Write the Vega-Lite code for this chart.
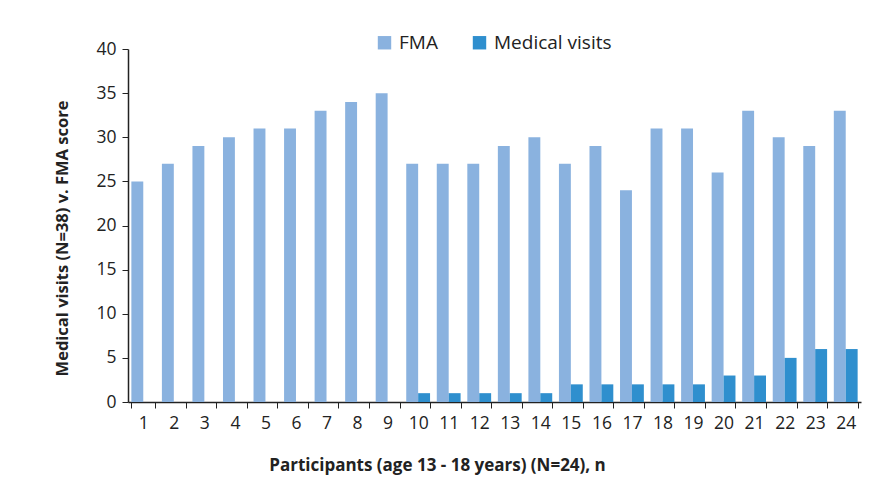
{
  "$schema": "https://vega.github.io/schema/vega-lite/v6.json",
  "autosize": "none",
  "width": 733,
  "height": 353,
  "padding": {"left": 128, "top": 49, "right": 24, "bottom": 83},
  "background": "white",
  "config": {"view": {"stroke": null}, "font": "Open Sans"},
  "data": {
    "values": [
      {"p": 1, "series": "FMA", "v": 25}, {"p": 1, "series": "Medical visits", "v": 0},
      {"p": 2, "series": "FMA", "v": 27}, {"p": 2, "series": "Medical visits", "v": 0},
      {"p": 3, "series": "FMA", "v": 29}, {"p": 3, "series": "Medical visits", "v": 0},
      {"p": 4, "series": "FMA", "v": 30}, {"p": 4, "series": "Medical visits", "v": 0},
      {"p": 5, "series": "FMA", "v": 31}, {"p": 5, "series": "Medical visits", "v": 0},
      {"p": 6, "series": "FMA", "v": 31}, {"p": 6, "series": "Medical visits", "v": 0},
      {"p": 7, "series": "FMA", "v": 33}, {"p": 7, "series": "Medical visits", "v": 0},
      {"p": 8, "series": "FMA", "v": 34}, {"p": 8, "series": "Medical visits", "v": 0},
      {"p": 9, "series": "FMA", "v": 35}, {"p": 9, "series": "Medical visits", "v": 0},
      {"p": 10, "series": "FMA", "v": 27}, {"p": 10, "series": "Medical visits", "v": 1},
      {"p": 11, "series": "FMA", "v": 27}, {"p": 11, "series": "Medical visits", "v": 1},
      {"p": 12, "series": "FMA", "v": 27}, {"p": 12, "series": "Medical visits", "v": 1},
      {"p": 13, "series": "FMA", "v": 29}, {"p": 13, "series": "Medical visits", "v": 1},
      {"p": 14, "series": "FMA", "v": 30}, {"p": 14, "series": "Medical visits", "v": 1},
      {"p": 15, "series": "FMA", "v": 27}, {"p": 15, "series": "Medical visits", "v": 2},
      {"p": 16, "series": "FMA", "v": 29}, {"p": 16, "series": "Medical visits", "v": 2},
      {"p": 17, "series": "FMA", "v": 24}, {"p": 17, "series": "Medical visits", "v": 2},
      {"p": 18, "series": "FMA", "v": 31}, {"p": 18, "series": "Medical visits", "v": 2},
      {"p": 19, "series": "FMA", "v": 31}, {"p": 19, "series": "Medical visits", "v": 2},
      {"p": 20, "series": "FMA", "v": 26}, {"p": 20, "series": "Medical visits", "v": 3},
      {"p": 21, "series": "FMA", "v": 33}, {"p": 21, "series": "Medical visits", "v": 3},
      {"p": 22, "series": "FMA", "v": 30}, {"p": 22, "series": "Medical visits", "v": 5},
      {"p": 23, "series": "FMA", "v": 29}, {"p": 23, "series": "Medical visits", "v": 6},
      {"p": 24, "series": "FMA", "v": 33}, {"p": 24, "series": "Medical visits", "v": 6}
    ]
  },
  "mark": {"type": "bar"},
  "encoding": {
    "x": {
      "field": "p",
      "type": "ordinal",
      "scale": {"paddingInner": 0.22, "paddingOuter": 0.11},
      "axis": {
        "title": "Participants (age 13 - 18 years) (N=24), n",
        "labelAngle": 0,
        "labelFontSize": 17.5,
        "labelColor": "#222",
        "labelPadding": 6,
        "tickBand": "extent",
        "tickSize": 6,
        "tickColor": "#222",
        "domainColor": "#222",
        "domainWidth": 1.5,
        "titleFontSize": 17,
        "titleFontWeight": "bold",
        "titleColor": "#222",
        "titleX": 309,
        "titleY": 68,
        "titleAlign": "center",
        "titleBaseline": "alphabetic"
      }
    },
    "xOffset": {"field": "series", "type": "nominal", "scale": {"paddingInner": 0, "paddingOuter": 0}, "sort": ["FMA", "Medical visits"]},
    "y": {
      "field": "v",
      "type": "quantitative",
      "scale": {"domain": [0, 40]},
      "axis": {
        "title": "Medical visits (N=38) v. FMA score",
        "values": [0, 5, 10, 15, 20, 25, 30, 35, 40],
        "grid": false,
        "labelFontSize": 17.5,
        "labelColor": "#222",
        "labelPadding": 6,
        "tickSize": 6,
        "tickColor": "#222",
        "domainColor": "#222",
        "domainWidth": 1.5,
        "titleFontSize": 16.5,
        "titleFontWeight": "bold",
        "titleColor": "#222",
        "titleX": -58,
        "titleY": 189,
        "titleAlign": "center",
        "titleBaseline": "bottom"
      }
    },
    "color": {
      "field": "series",
      "type": "nominal",
      "sort": ["FMA", "Medical visits"],
      "scale": {"domain": ["FMA", "Medical visits"], "range": ["#8ab2df", "#2f8fce"]},
      "legend": {
        "title": null,
        "orient": "none",
        "direction": "horizontal",
        "legendX": 247,
        "legendY": -16,
        "symbolType": "square",
        "symbolSize": 180,
        "symbolStrokeWidth": 0,
        "symbolOpacity": 1,
        "labelFontSize": 19,
        "labelColor": "#222",
        "columnPadding": 32,
        "labelOffset": 5
      }
    }
  }
}
